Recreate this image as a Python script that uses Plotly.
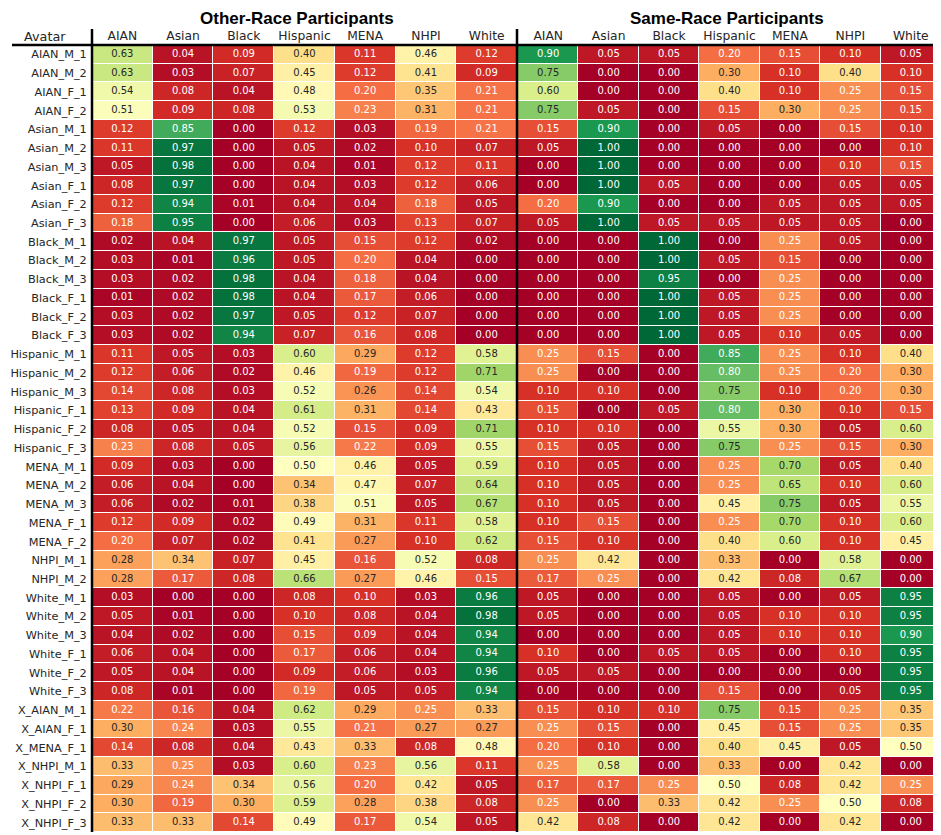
import plotly.graph_objects as go
import numpy as np

avatars = ["AIAN_M_1", "AIAN_M_2", "AIAN_F_1", "AIAN_F_2",
           "Asian_M_1", "Asian_M_2", "Asian_M_3", "Asian_F_1", "Asian_F_2", "Asian_F_3",
           "Black_M_1", "Black_M_2", "Black_M_3", "Black_F_1", "Black_F_2", "Black_F_3",
           "Hispanic_M_1", "Hispanic_M_2", "Hispanic_M_3", "Hispanic_F_1", "Hispanic_F_2", "Hispanic_F_3",
           "MENA_M_1", "MENA_M_2", "MENA_M_3", "MENA_F_1", "MENA_F_2",
           "NHPI_M_1", "NHPI_M_2",
           "White_M_1", "White_M_2", "White_M_3", "White_F_1", "White_F_2", "White_F_3",
           "X_AIAN_M_1", "X_AIAN_F_1", "X_MENA_F_1", "X_NHPI_M_1", "X_NHPI_F_1", "X_NHPI_F_2", "X_NHPI_F_3"]

races = ["AIAN", "Asian", "Black", "Hispanic", "MENA", "NHPI", "White"]

other_race = [
    [0.63, 0.04, 0.09, 0.40, 0.11, 0.46, 0.12],
    [0.63, 0.03, 0.07, 0.45, 0.12, 0.41, 0.09],
    [0.54, 0.08, 0.04, 0.48, 0.20, 0.35, 0.21],
    [0.51, 0.09, 0.08, 0.53, 0.23, 0.31, 0.21],
    [0.12, 0.85, 0.00, 0.12, 0.03, 0.19, 0.21],
    [0.11, 0.97, 0.00, 0.05, 0.02, 0.10, 0.07],
    [0.05, 0.98, 0.00, 0.04, 0.01, 0.12, 0.11],
    [0.08, 0.97, 0.00, 0.04, 0.03, 0.12, 0.06],
    [0.12, 0.94, 0.01, 0.04, 0.04, 0.18, 0.05],
    [0.18, 0.95, 0.00, 0.06, 0.03, 0.13, 0.07],
    [0.02, 0.04, 0.97, 0.05, 0.15, 0.12, 0.02],
    [0.03, 0.01, 0.96, 0.05, 0.20, 0.04, 0.00],
    [0.03, 0.02, 0.98, 0.04, 0.18, 0.04, 0.00],
    [0.01, 0.02, 0.98, 0.04, 0.17, 0.06, 0.00],
    [0.03, 0.02, 0.97, 0.05, 0.12, 0.07, 0.00],
    [0.03, 0.02, 0.94, 0.07, 0.16, 0.08, 0.00],
    [0.11, 0.05, 0.03, 0.60, 0.29, 0.12, 0.58],
    [0.12, 0.06, 0.02, 0.46, 0.19, 0.12, 0.71],
    [0.14, 0.08, 0.03, 0.52, 0.26, 0.14, 0.54],
    [0.13, 0.09, 0.04, 0.61, 0.31, 0.14, 0.43],
    [0.08, 0.05, 0.04, 0.52, 0.15, 0.09, 0.71],
    [0.23, 0.08, 0.05, 0.56, 0.22, 0.09, 0.55],
    [0.09, 0.03, 0.00, 0.50, 0.46, 0.05, 0.59],
    [0.06, 0.04, 0.00, 0.34, 0.47, 0.07, 0.64],
    [0.06, 0.02, 0.01, 0.38, 0.51, 0.05, 0.67],
    [0.12, 0.09, 0.02, 0.49, 0.31, 0.11, 0.58],
    [0.20, 0.07, 0.02, 0.41, 0.27, 0.10, 0.62],
    [0.28, 0.34, 0.07, 0.45, 0.16, 0.52, 0.08],
    [0.28, 0.17, 0.08, 0.66, 0.27, 0.46, 0.15],
    [0.03, 0.00, 0.00, 0.08, 0.10, 0.03, 0.96],
    [0.05, 0.01, 0.00, 0.10, 0.08, 0.04, 0.98],
    [0.04, 0.02, 0.00, 0.15, 0.09, 0.04, 0.94],
    [0.06, 0.04, 0.00, 0.17, 0.06, 0.04, 0.94],
    [0.05, 0.04, 0.00, 0.09, 0.06, 0.03, 0.96],
    [0.08, 0.01, 0.00, 0.19, 0.05, 0.05, 0.94],
    [0.22, 0.16, 0.04, 0.62, 0.29, 0.25, 0.33],
    [0.30, 0.24, 0.03, 0.55, 0.21, 0.27, 0.27],
    [0.14, 0.08, 0.04, 0.43, 0.33, 0.08, 0.48],
    [0.33, 0.25, 0.03, 0.60, 0.23, 0.56, 0.11],
    [0.29, 0.24, 0.34, 0.56, 0.20, 0.42, 0.05],
    [0.30, 0.19, 0.30, 0.59, 0.28, 0.38, 0.08],
    [0.33, 0.33, 0.14, 0.49, 0.17, 0.54, 0.05],
]

same_race = [
    [0.90, 0.05, 0.05, 0.20, 0.15, 0.10, 0.05],
    [0.75, 0.00, 0.00, 0.30, 0.10, 0.40, 0.10],
    [0.60, 0.00, 0.00, 0.40, 0.10, 0.25, 0.15],
    [0.75, 0.05, 0.00, 0.15, 0.30, 0.25, 0.15],
    [0.15, 0.90, 0.00, 0.05, 0.00, 0.15, 0.10],
    [0.05, 1.00, 0.00, 0.00, 0.00, 0.00, 0.10],
    [0.00, 1.00, 0.00, 0.00, 0.00, 0.10, 0.15],
    [0.00, 1.00, 0.05, 0.00, 0.00, 0.05, 0.05],
    [0.20, 0.90, 0.00, 0.00, 0.05, 0.05, 0.05],
    [0.05, 1.00, 0.05, 0.05, 0.05, 0.05, 0.00],
    [0.00, 0.00, 1.00, 0.00, 0.25, 0.05, 0.00],
    [0.00, 0.00, 1.00, 0.05, 0.15, 0.00, 0.00],
    [0.00, 0.00, 0.95, 0.00, 0.25, 0.00, 0.00],
    [0.00, 0.00, 1.00, 0.05, 0.25, 0.00, 0.00],
    [0.00, 0.00, 1.00, 0.05, 0.25, 0.00, 0.00],
    [0.00, 0.00, 1.00, 0.05, 0.10, 0.05, 0.00],
    [0.25, 0.15, 0.00, 0.85, 0.25, 0.10, 0.40],
    [0.25, 0.00, 0.00, 0.80, 0.25, 0.20, 0.30],
    [0.10, 0.10, 0.00, 0.75, 0.10, 0.20, 0.30],
    [0.15, 0.00, 0.05, 0.80, 0.30, 0.10, 0.15],
    [0.10, 0.10, 0.00, 0.55, 0.30, 0.05, 0.60],
    [0.15, 0.05, 0.00, 0.75, 0.25, 0.15, 0.30],
    [0.10, 0.05, 0.00, 0.25, 0.70, 0.05, 0.40],
    [0.10, 0.05, 0.00, 0.25, 0.65, 0.10, 0.60],
    [0.10, 0.05, 0.00, 0.45, 0.75, 0.05, 0.55],
    [0.10, 0.15, 0.00, 0.25, 0.70, 0.10, 0.60],
    [0.15, 0.10, 0.00, 0.40, 0.60, 0.10, 0.45],
    [0.25, 0.42, 0.00, 0.33, 0.00, 0.58, 0.00],
    [0.17, 0.25, 0.00, 0.42, 0.08, 0.67, 0.00],
    [0.05, 0.00, 0.00, 0.05, 0.00, 0.05, 0.95],
    [0.05, 0.00, 0.00, 0.05, 0.10, 0.10, 0.95],
    [0.00, 0.00, 0.00, 0.05, 0.10, 0.10, 0.90],
    [0.10, 0.00, 0.05, 0.05, 0.00, 0.10, 0.95],
    [0.05, 0.05, 0.00, 0.00, 0.00, 0.00, 0.95],
    [0.00, 0.00, 0.00, 0.15, 0.00, 0.05, 0.95],
    [0.15, 0.10, 0.10, 0.75, 0.15, 0.25, 0.35],
    [0.25, 0.15, 0.00, 0.45, 0.15, 0.25, 0.35],
    [0.20, 0.10, 0.00, 0.40, 0.45, 0.05, 0.50],
    [0.25, 0.58, 0.00, 0.33, 0.00, 0.42, 0.00],
    [0.17, 0.17, 0.25, 0.50, 0.08, 0.42, 0.25],
    [0.25, 0.00, 0.33, 0.42, 0.25, 0.50, 0.08],
    [0.42, 0.08, 0.00, 0.42, 0.00, 0.42, 0.00],
]

panel_titles = ["Other-Race Participants", "Same-Race Participants"]

# matplotlib RdYlGn
rdylgn_hex = ["#a50026", "#d73027", "#f46d43", "#fdae61", "#fee08b", "#ffffbf",
              "#d9ef8b", "#a6d96a", "#66bd63", "#1a9850", "#006837"]
colorscale = [[i / 10, c] for i, c in enumerate(rdylgn_hex)]
stops = np.array([[int(c[k:k + 2], 16) / 255 for k in (1, 3, 5)] for c in rdylgn_hex])


def cell_rgb(v):
    p = np.clip(v, 0, 1) * 10
    i = min(int(np.floor(p)), 9)
    f = p - i
    return stops[i] * (1 - f) + stops[i + 1] * f


def text_color(v):
    rgb = cell_rgb(v)
    lin = np.where(rgb <= 0.03928, rgb / 12.92, ((rgb + 0.055) / 1.055) ** 2.4)
    lum = lin.dot([0.2126, 0.7152, 0.0722])
    return "rgb(38,38,38)" if lum > 0.408 else "white"


fig = go.Figure()

panels = [(other_race, "x", "y"), (same_race, "x2", "y")]
for data, xa, ya in panels:
    fig.add_trace(go.Heatmap(
        z=data, x=races, y=avatars, xaxis=xa, yaxis=ya,
        colorscale=colorscale, zmin=0, zmax=1, showscale=False,
        xgap=1, ygap=1,
    ))
    xs, ys, ts, cs = [], [], [], []
    for r, name in enumerate(avatars):
        for c, race in enumerate(races):
            v = data[r][c]
            xs.append(race)
            ys.append(name)
            ts.append(f"{v:.2f}")
            cs.append(text_color(v))
    fig.add_trace(go.Scatter(
        x=xs, y=ys, text=ts, mode="text", xaxis=xa, yaxis=ya,
        textfont=dict(family="DejaVu Sans", size=10, color=cs),
        hoverinfo="skip", showlegend=False,
    ))

# The page body adds an 8px margin; work in page pixels and convert.
OFF = 8
W, H = 941 - OFF, 835 - OFF


def px(x):
    return (x - OFF) / W


def py(y):
    return 1 - (y - OFF) / H


x_left0, x_left1 = px(92), px(517)
x_right0, x_right1 = px(518), px(941)
y_top, y_bot = py(45), py(832)

col_font = dict(family="DejaVu Sans", size=12.3, color="#262626")
row_font = dict(family="DejaVu Sans", size=11.3, color="#262626")
xaxis_common = dict(side="top", anchor="y", tickfont=col_font, automargin=False,
                    ticks="", ticklabelstandoff=2,
                    showgrid=False, zeroline=False, showline=False,
                    range=[-0.5, len(races) - 0.5], fixedrange=True)
fig.update_layout(
    width=W, height=H,
    margin=dict(l=0, r=0, t=0, b=0),
    paper_bgcolor="white", plot_bgcolor="white",
    showlegend=False,
    xaxis=dict(domain=[x_left0, x_left1], **xaxis_common),
    xaxis2=dict(domain=[x_right0, x_right1], **xaxis_common),
    yaxis=dict(domain=[y_bot, y_top], range=[len(avatars) - 0.5, -0.5], tickfont=row_font,
               automargin=False, ticks="outside", ticklen=2, tickcolor="rgba(0,0,0,0)",
               showgrid=False, zeroline=False, showline=False, fixedrange=True),
)

title_font = dict(family="Liberation Sans", size=17, color="black")
for title, xc in zip(panel_titles, (px(297), px(727))):
    fig.add_annotation(text=f"<b>{title}</b>", x=xc, y=1.0,
                       xref="paper", yref="paper", showarrow=False, font=title_font,
                       xanchor="center", yanchor="top", borderpad=0)
fig.add_annotation(text="Avatar", x=px(22), y=py(36), xref="paper", yref="paper",
                   showarrow=False, font=dict(family="DejaVu Sans", size=12.8, color="#262626"),
                   xanchor="left", yanchor="middle")

# Table rules
line = dict(color="black", width=2.5)
fig.add_shape(type="line", xref="paper", yref="paper", x0=px(12), x1=px(941),
              y0=y_top, y1=y_top, line=line)
for xv in (x_left0, x_left1):
    fig.add_shape(type="line", xref="paper", yref="paper", x0=xv, x1=xv,
                  y0=py(29), y1=y_bot, line=line)

fig.write_html("out.html")
